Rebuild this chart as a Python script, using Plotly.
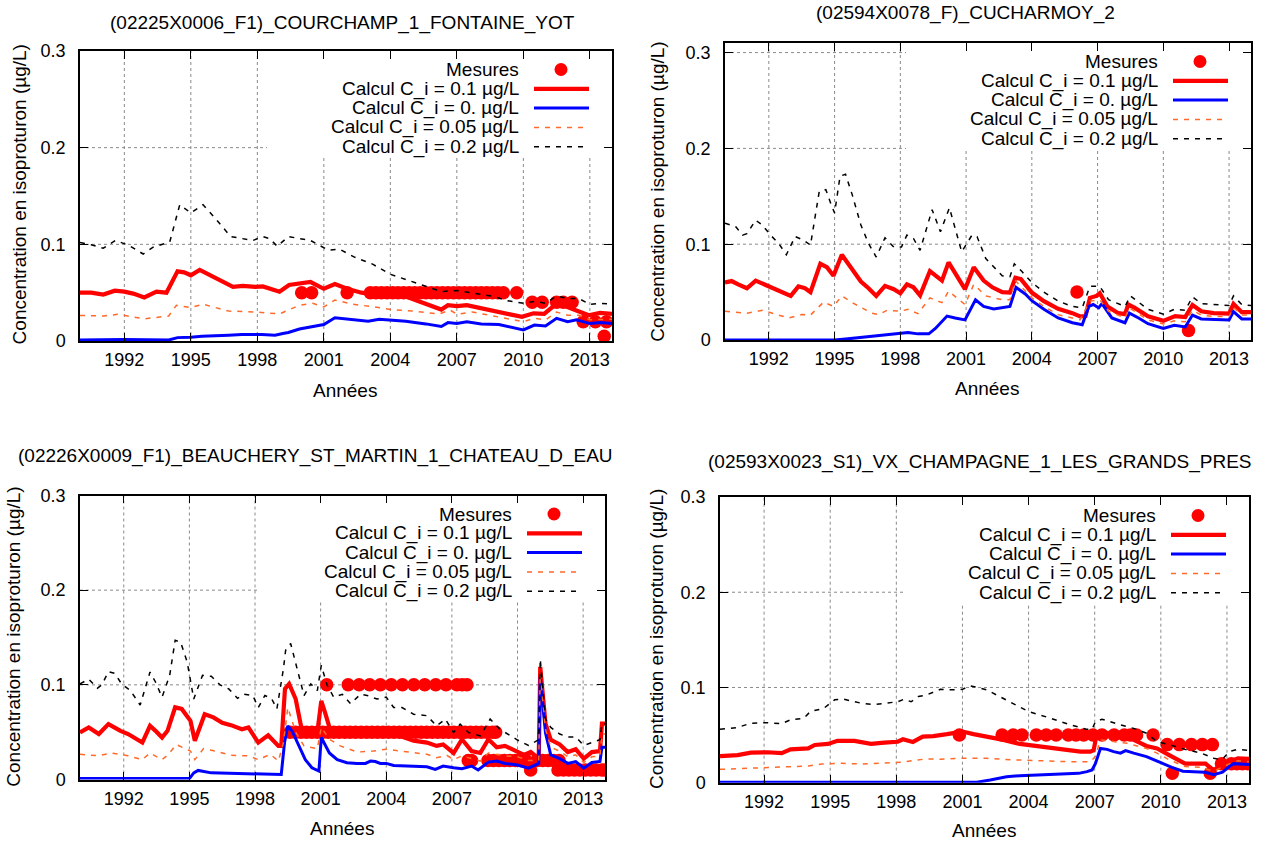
import plotly.graph_objects as go

W, H = 1264, 841

# ---------------- DATA ----------------
titles = [
    "(02225X0006_F1)_COURCHAMP_1_FONTAINE_YOT",
    "(02594X0078_F)_CUCHARMOY_2",
    "(02226X0009_F1)_BEAUCHERY_ST_MARTIN_1_CHATEAU_D_EAU",
    "(02593X0023_S1)_VX_CHAMPAGNE_1_LES_GRANDS_PRES",
]
legend_labels = ["Mesures", "Calcul C_i = 0.1 µg/L", "Calcul C_i = 0. µg/L",
                 "Calcul C_i = 0.05 µg/L", "Calcul C_i = 0.2 µg/L"]
x_tick_years = [1992, 1995, 1998, 2001, 2004, 2007, 2010, 2013]
y_tick_vals = [0, 0.1, 0.2, 0.3]
y_tick_text = ["0", "0.1", "0.2", "0.3"]
x_title = "Années"
y_title = "Concentration en isoproturon (µg/L)"

# Panel 1
p1_meas_x = [2000.0, 2000.45, 2002.05, 2003.1, 2003.35, 2003.6, 2003.85, 2004.1, 2004.35, 2004.6, 2004.85,
             2005.1, 2005.35, 2005.6, 2005.85, 2006.1, 2006.35, 2006.6, 2006.85, 2007.1, 2007.35, 2007.6,
             2007.85, 2008.1, 2008.35, 2008.6, 2008.85, 2009.1, 2009.7, 2010.4, 2010.85, 2011.5, 2011.8,
             2012.2, 2012.7, 2013.25, 2013.75, 2013.65]
p1_meas_y = [0.05, 0.05, 0.05, 0.05, 0.05, 0.05, 0.05, 0.05, 0.05, 0.05, 0.05,
             0.05, 0.05, 0.05, 0.05, 0.05, 0.05, 0.05, 0.05, 0.05, 0.05, 0.05,
             0.05, 0.05, 0.05, 0.05, 0.05, 0.05, 0.05, 0.04, 0.04, 0.04, 0.04,
             0.04, 0.02, 0.02, 0.02, 0.005]
p1_red_x = [1990.0, 1990.5, 1991.05, 1991.57, 1992.0, 1992.4, 1992.9, 1993.45, 1993.9, 1994.4, 1994.7, 1995.0,
            1995.4, 1995.9, 1996.4, 1996.9, 1997.35, 1997.9, 1998.25, 1998.55, 1999.0, 1999.43, 1999.9, 2000.4,
            2001.0, 2001.5, 2002.05, 2002.7, 2003.3, 2004.0, 2004.7, 2005.6, 2006.3, 2006.6, 2007.0, 2007.45,
            2008.1, 2008.9, 2009.4, 2009.94, 2010.46, 2010.94, 2011.46, 2011.9, 2012.4, 2012.95, 2013.46, 2014.0]
p1_red_y = [0.050, 0.050, 0.048, 0.052, 0.051, 0.049, 0.045, 0.051, 0.050, 0.072, 0.071, 0.068,
            0.0735, 0.068, 0.062, 0.056, 0.057, 0.056, 0.0565, 0.054, 0.051, 0.058, 0.059, 0.061,
            0.054, 0.059, 0.054, 0.050, 0.048, 0.049, 0.046, 0.039, 0.0325, 0.037, 0.036, 0.037,
            0.0335, 0.030, 0.0275, 0.025, 0.0286, 0.028, 0.038, 0.036, 0.032, 0.0266, 0.029, 0.028]
p1_blue_x = [1990.0, 1992.0, 1994.0, 1994.4, 1995.0, 1995.5, 1996.7, 1997.3, 1998.2, 1998.8, 1999.15, 1999.4,
             1999.9, 2000.4, 2001.0, 2001.5, 2002.3, 2003.0, 2003.5, 2004.0, 2004.7, 2005.6, 2006.3, 2006.6,
             2007.0, 2007.45, 2008.1, 2008.9, 2009.4, 2010.0, 2010.5, 2011.0, 2011.5, 2012.0, 2012.4, 2013.0,
             2013.5, 2014.0]
p1_blue_y = [0.001, 0.0015, 0.001, 0.0035, 0.004, 0.005, 0.006, 0.0067, 0.0067, 0.006, 0.0078, 0.0088,
             0.0124, 0.0148, 0.017, 0.024, 0.022, 0.0205, 0.0226, 0.022, 0.0205, 0.0177, 0.015, 0.019,
             0.018, 0.0198, 0.0177, 0.017, 0.0148, 0.0114, 0.0165, 0.0155, 0.0235, 0.020, 0.022, 0.018,
             0.019, 0.018]
p1_orange_x = [1990.0, 1991.05, 1991.7, 1992.9, 1994.0, 1994.35, 1995.0, 1995.55, 1996.7, 1997.9, 1999.0, 1999.4,
               1999.9, 2000.5, 2001.0, 2001.5, 2002.3, 2003.3, 2004.0, 2005.0, 2006.2, 2006.7, 2007.0, 2007.7,
               2008.9, 2009.4, 2010.0, 2010.5, 2011.0, 2011.5, 2012.0, 2012.5, 2013.0, 2014.0]
p1_orange_y = [0.0265, 0.0258, 0.0276, 0.023, 0.0258, 0.037, 0.0346, 0.038, 0.031, 0.030, 0.028, 0.032,
               0.037, 0.039, 0.0353, 0.0424, 0.038, 0.0353, 0.0325, 0.031, 0.028, 0.032, 0.0276, 0.030,
               0.025, 0.023, 0.020, 0.0235, 0.0218, 0.030, 0.0266, 0.0266, 0.022, 0.0225]
p1_black_x = [1990.0, 1990.5, 1991.05, 1991.6, 1992.2, 1992.85, 1993.3, 1993.8, 1994.05, 1994.5, 1995.0, 1995.55,
              1996.1, 1996.8, 1997.3, 1997.8, 1998.25, 1998.55, 1998.9, 1999.4, 1999.9, 2000.4, 2000.8, 2001.2,
              2001.7, 2002.4, 2003.2, 2004.0, 2004.7, 2005.6, 2006.3, 2007.0, 2007.8, 2008.7, 2009.2, 2010.0,
              2010.5, 2011.0, 2011.5, 2012.0, 2012.5, 2013.0, 2013.5, 2014.0]
p1_black_y = [0.1018, 0.0996, 0.096, 0.104, 0.099, 0.090, 0.097, 0.1007, 0.1025, 0.141, 0.1325, 0.141,
              0.127, 0.108, 0.106, 0.104, 0.108, 0.106, 0.098, 0.108, 0.106, 0.104, 0.099, 0.094,
              0.095, 0.0866, 0.0795, 0.069, 0.0636, 0.0565, 0.0512, 0.0523, 0.0495, 0.046, 0.042, 0.039,
              0.041, 0.039, 0.0466, 0.044, 0.044, 0.038, 0.039, 0.038]

# Panel 2
p2_meas_x = [2006.06, 2011.15]
p2_meas_y = [0.05, 0.01]
p2_red_x = [1990.0, 1990.3, 1990.6, 1991.0, 1991.4, 1991.8, 1992.15, 1992.5, 1993.0, 1993.35, 1993.65, 1993.9,
            1994.35, 1994.65, 1994.95, 1995.33, 1995.7, 1996.2, 1996.55, 1996.9, 1997.3, 1997.7, 1998.0, 1998.3,
            1998.6, 1998.9, 1999.35, 1999.9, 2000.2, 2000.95, 2001.35, 2001.8, 2002.2, 2002.65, 2003.0, 2003.25,
            2003.5, 2004.0, 2004.55, 2005.2, 2005.85, 2006.2, 2006.45, 2006.65, 2006.95, 2007.1, 2007.45, 2007.95,
            2008.25, 2008.4, 2008.7, 2009.3, 2010.0, 2010.54, 2011.0, 2011.33, 2011.73, 2012.29, 2013.0, 2013.2,
            2013.58, 2014.0]
p2_red_y = [0.060, 0.0615, 0.058, 0.054, 0.062, 0.058, 0.055, 0.052, 0.046, 0.056, 0.054, 0.050,
            0.0795, 0.076, 0.067, 0.089, 0.0777, 0.061, 0.054, 0.046, 0.0565, 0.053, 0.0488, 0.058,
            0.055, 0.0466, 0.072, 0.062, 0.081, 0.053, 0.076, 0.062, 0.055, 0.050, 0.0495, 0.065,
            0.0636, 0.0495, 0.0406, 0.0325, 0.028, 0.0247, 0.025, 0.044, 0.046, 0.0488, 0.035, 0.028,
            0.027, 0.037, 0.0335, 0.0247, 0.020, 0.025, 0.024, 0.0365, 0.030, 0.028, 0.0275, 0.0376,
            0.029, 0.029]
p2_blue_x = [1990.0, 1995.0, 1995.5, 1996.4, 1997.15, 1998.0, 1998.35, 1998.8, 1999.3, 1999.6, 2000.13, 2000.5,
             2000.95, 2001.43, 2001.8, 2002.26, 2002.65, 2003.0, 2003.28, 2003.7, 2004.0, 2004.55, 2005.2, 2005.85,
             2006.3, 2006.6, 2006.8, 2007.05, 2007.2, 2007.65, 2008.25, 2008.45, 2008.87, 2009.3, 2010.0, 2010.5,
             2011.0, 2011.33, 2011.73, 2012.3, 2013.0, 2013.2, 2013.58, 2014.0]
p2_blue_y = [0.0, 0.0, 0.001, 0.003, 0.005, 0.007, 0.0078, 0.0064, 0.0064, 0.012, 0.025, 0.023,
             0.021, 0.042, 0.035, 0.0325, 0.0336, 0.035, 0.055, 0.048, 0.041, 0.032, 0.023, 0.018,
             0.016, 0.035, 0.037, 0.0336, 0.038, 0.023, 0.018, 0.028, 0.023, 0.017, 0.012, 0.0153,
             0.0136, 0.026, 0.022, 0.0216, 0.021, 0.0296, 0.022, 0.022]
p2_orange_x = [1990.0, 1991.0, 1991.7, 1992.9, 1993.5, 1993.9, 1994.5, 1994.95, 1995.33, 1995.8, 1996.7, 1997.0,
               1997.4, 1998.0, 1998.35, 1998.8, 1999.35, 1999.9, 2000.2, 2000.95, 2001.35, 2001.9, 2002.65, 2003.0,
               2003.25, 2004.0, 2004.55, 2005.2, 2006.2, 2006.65, 2007.1, 2007.5, 2008.25, 2008.45, 2009.3, 2010.0,
               2010.5, 2011.0, 2011.33, 2011.73, 2012.3, 2013.0, 2013.2, 2013.58, 2014.0]
p2_orange_y = [0.030, 0.028, 0.031, 0.023, 0.0265, 0.026, 0.0396, 0.035, 0.046, 0.039, 0.028, 0.0265,
               0.031, 0.030, 0.032, 0.0275, 0.044, 0.039, 0.051, 0.037, 0.058, 0.046, 0.042, 0.042,
               0.062, 0.044, 0.035, 0.0265, 0.021, 0.0406, 0.042, 0.030, 0.023, 0.0336, 0.021, 0.0167,
               0.020, 0.019, 0.031, 0.026, 0.0245, 0.0245, 0.034, 0.026, 0.026]
p2_black_x = [1990.0, 1990.5, 1990.8, 1991.0, 1991.4, 1991.7, 1992.1, 1992.45, 1992.8, 1993.2, 1993.6, 1993.9,
              1994.3, 1994.6, 1994.85, 1995.0, 1995.25, 1995.5, 1995.8, 1996.2, 1996.55, 1996.9, 1997.3, 1997.7,
              1998.05, 1998.3, 1998.6, 1998.9, 1999.45, 1999.83, 2000.24, 2000.5, 2000.8, 2001.27, 2001.5, 2001.9,
              2002.65, 2003.0, 2003.2, 2003.55, 2004.0, 2004.55, 2005.2, 2005.85, 2006.3, 2006.65, 2007.1, 2007.5,
              2008.25, 2008.5, 2009.3, 2010.0, 2010.5, 2011.0, 2011.33, 2011.73, 2012.3, 2013.0, 2013.2, 2013.58,
              2014.0]
p2_black_y = [0.122, 0.118, 0.1095, 0.111, 0.125, 0.120, 0.109, 0.1007, 0.089, 0.108, 0.104, 0.099,
              0.155, 0.157, 0.141, 0.1325, 0.171, 0.173, 0.152, 0.120, 0.1007, 0.0866, 0.1067, 0.097,
              0.097, 0.1095, 0.106, 0.0936, 0.136, 0.113, 0.138, 0.1166, 0.092, 0.1095, 0.108, 0.085,
              0.067, 0.066, 0.0795, 0.0714, 0.060, 0.050, 0.0406, 0.035, 0.0336, 0.056, 0.056, 0.042,
              0.035, 0.046, 0.032, 0.027, 0.032, 0.031, 0.045, 0.038, 0.037, 0.036, 0.046, 0.037,
              0.036]

# Panel 3
p3_meas_x = [2001.28, 2002.26, 2002.76, 2003.24, 2003.73, 2004.23, 2004.74, 2005.26, 2005.76, 2006.26, 2006.73,
             2007.23, 2007.47, 2007.69,
             1999.6, 1999.85, 2000.1, 2000.35, 2000.6, 2000.85, 2001.1, 2001.35, 2001.6, 2001.85, 2002.1,
             2002.35, 2002.6, 2002.85, 2003.1, 2003.35, 2003.6, 2003.85, 2004.1, 2004.35, 2004.6, 2004.85,
             2005.1, 2005.35, 2005.6, 2005.85, 2006.1, 2006.35, 2006.6, 2006.85, 2007.1, 2007.35, 2007.6,
             2007.85, 2008.1, 2008.35, 2008.6, 2008.85, 2009.0,
             2007.75, 2007.9, 2008.65, 2008.9, 2009.15, 2009.4, 2009.65, 2009.9, 2010.15, 2010.4, 2010.9,
             2011.15, 2011.4, 2011.65, 2011.9,
             2010.6, 2011.85, 2012.1, 2012.35, 2012.6, 2012.85, 2013.1, 2013.35, 2013.6, 2013.85, 2014.0]
p3_meas_y = [0.1, 0.1, 0.1, 0.1, 0.1, 0.1, 0.1, 0.1, 0.1, 0.1, 0.1,
             0.1, 0.1, 0.1,
             0.05, 0.05, 0.05, 0.05, 0.05, 0.05, 0.05, 0.05, 0.05, 0.05, 0.05,
             0.05, 0.05, 0.05, 0.05, 0.05, 0.05, 0.05, 0.05, 0.05, 0.05, 0.05,
             0.05, 0.05, 0.05, 0.05, 0.05, 0.05, 0.05, 0.05, 0.05, 0.05, 0.05,
             0.05, 0.05, 0.05, 0.05, 0.05, 0.05,
             0.02, 0.02, 0.02, 0.02, 0.02, 0.02, 0.02, 0.02, 0.02, 0.02, 0.02,
             0.02, 0.02, 0.02, 0.02,
             0.01, 0.01, 0.01, 0.01, 0.01, 0.01, 0.01, 0.01, 0.01, 0.01, 0.01]
p3_red_x = [1990.0, 1990.4, 1990.86, 1991.3, 1991.85, 1992.2, 1992.85, 1993.2, 1993.45, 1993.75, 1994.0, 1994.35,
            1994.65, 1995.05, 1995.25, 1995.7, 1996.1, 1996.5, 1996.9, 1997.4, 1997.7, 1998.15, 1998.6, 1999.07,
            1999.2, 1999.37, 1999.56, 1999.86, 2000.1, 2000.24, 2000.85, 2001.03, 2001.2, 2001.45, 2002.5, 2003.5,
            2004.5, 2005.25, 2005.86, 2006.3, 2006.6, 2007.08, 2007.46, 2007.9, 2008.3, 2008.67, 2009.05, 2009.43,
            2009.9, 2010.3, 2010.6, 2010.97, 2011.04, 2011.28, 2011.52, 2011.93, 2012.3, 2012.66, 2013.03, 2013.4,
            2013.77, 2013.86, 2014.0]
p3_red_y = [0.0496, 0.055, 0.048, 0.0585, 0.0514, 0.048, 0.039, 0.0567, 0.0514, 0.0443, 0.0514, 0.0762,
            0.0745, 0.062, 0.041, 0.069, 0.0656, 0.060, 0.0574, 0.053, 0.055, 0.039, 0.0468, 0.0355,
            0.0355, 0.0957, 0.101, 0.085, 0.057, 0.050, 0.050, 0.083, 0.071, 0.0514, 0.050, 0.049,
            0.047, 0.041, 0.039, 0.0355, 0.037, 0.028, 0.0425, 0.030, 0.028, 0.0425, 0.034, 0.0355,
            0.031, 0.026, 0.029, 0.022, 0.119, 0.059, 0.042, 0.037, 0.029, 0.032, 0.022, 0.029,
            0.030, 0.059, 0.059]
p3_blue_x = [1990.0, 1995.0, 1995.2, 1995.4, 1996.0, 1997.1, 1998.0, 1998.9, 1999.2, 1999.35, 1999.5, 1999.7,
             2000.0, 2000.3, 2000.6, 2000.92, 2001.03, 2001.4, 2001.76, 2002.2, 2002.67, 2003.05, 2003.28, 2003.5,
             2003.73, 2004.0, 2004.34, 2005.25, 2005.86, 2006.24, 2006.6, 2007.08, 2007.46, 2007.9, 2008.2, 2008.67,
             2009.05, 2009.43, 2010.0, 2010.5, 2010.97, 2011.04, 2011.28, 2011.52, 2011.93, 2012.3, 2012.66, 2013.03,
             2013.4, 2013.77, 2013.86, 2014.0]
p3_blue_y = [0.001, 0.001, 0.007, 0.0096, 0.007, 0.0064, 0.006, 0.0053, 0.0053, 0.039, 0.0567, 0.051,
             0.0355, 0.021, 0.0124, 0.0089, 0.0443, 0.028, 0.021, 0.0177, 0.017, 0.017, 0.0195, 0.019,
             0.017, 0.017, 0.0149, 0.0142, 0.0135, 0.0106, 0.0142, 0.0124, 0.0113, 0.0142, 0.010, 0.0184,
             0.0195, 0.017, 0.0153, 0.012, 0.017, 0.1086, 0.049, 0.026, 0.022, 0.017, 0.019, 0.012,
             0.018, 0.019, 0.034, 0.034]
p3_orange_x = [1990.0, 1990.86, 1991.4, 1992.2, 1992.85, 1993.2, 1993.75, 1994.05, 1994.4, 1995.05, 1995.25, 1995.65,
               1996.2, 1996.9, 1997.7, 1998.15, 1998.7, 1999.07, 1999.3, 1999.5, 1999.86, 2000.24, 2000.85, 2001.03,
               2001.4, 2001.9, 2002.67, 2003.4, 2004.0, 2004.65, 2005.25, 2005.86, 2006.3, 2006.77, 2007.08, 2007.46,
               2008.3, 2008.67, 2009.43, 2010.0, 2010.5, 2010.97, 2011.04, 2011.28, 2011.52, 2011.93, 2012.3, 2012.66,
               2013.03, 2013.4, 2013.77, 2013.86, 2014.0]
p3_orange_y = [0.0266, 0.025, 0.028, 0.025, 0.021, 0.028, 0.021, 0.0266, 0.037, 0.030, 0.021, 0.0326,
               0.030, 0.0255, 0.025, 0.021, 0.0266, 0.0195, 0.039, 0.076, 0.050, 0.0355, 0.0326, 0.055,
               0.0425, 0.0355, 0.029, 0.030, 0.032, 0.030, 0.028, 0.0266, 0.023, 0.0255, 0.021, 0.025,
               0.0195, 0.028, 0.025, 0.024, 0.020, 0.020, 0.112, 0.053, 0.034, 0.030, 0.024, 0.026,
               0.018, 0.024, 0.025, 0.048, 0.048]
p3_black_x = [1990.0, 1990.4, 1990.8, 1991.0, 1991.3, 1991.6, 1991.9, 1992.3, 1992.75, 1993.2, 1993.45, 1993.75,
              1994.1, 1994.35, 1994.6, 1994.9, 1995.2, 1995.6, 1996.0, 1996.4, 1996.8, 1997.2, 1997.5, 1997.9,
              1998.15, 1998.45, 1998.75, 1999.0, 1999.3, 1999.4, 1999.63, 1999.94, 2000.24, 2000.55, 2000.85, 2001.03,
              2001.3, 2001.6, 2001.99, 2002.37, 2002.82, 2003.13, 2003.58, 2004.0, 2004.34, 2004.72, 2005.25, 2005.86,
              2006.3, 2006.7, 2007.08, 2007.38, 2007.76, 2008.3, 2008.75, 2009.2, 2010.0, 2010.5, 2010.97, 2011.04,
              2011.28, 2011.52, 2011.93, 2012.3, 2012.66, 2013.03, 2013.4, 2013.77, 2013.86, 2014.0]
p3_black_y = [0.101, 0.106, 0.0965, 0.100, 0.114, 0.112, 0.101, 0.094, 0.0787, 0.1135, 0.103, 0.087,
              0.110, 0.147, 0.145, 0.124, 0.085, 0.110, 0.109, 0.100, 0.0957, 0.0858, 0.090, 0.0887,
              0.076, 0.0887, 0.0858, 0.0745, 0.117, 0.1365, 0.1436, 0.117, 0.0887, 0.101, 0.094, 0.1206,
              0.0993, 0.087, 0.090, 0.080, 0.090, 0.0887, 0.085, 0.087, 0.076, 0.076, 0.069, 0.0674,
              0.0567, 0.0638, 0.0496, 0.0585, 0.0496, 0.046, 0.0638, 0.053, 0.0417, 0.036, 0.042, 0.127,
              0.064, 0.055, 0.048, 0.045, 0.045, 0.036, 0.039, 0.042, 0.059, 0.059]

# Panel 4
p4_meas_x = [2000.86, 2002.8, 2003.3, 2003.7, 2004.35, 2004.8, 2005.25, 2005.8, 2006.15, 2006.5, 2006.92,
             2007.33, 2007.88, 2008.34, 2008.62, 2008.9, 2009.65,
             2010.29, 2010.84, 2011.39, 2011.88, 2012.34,
             2010.52, 2012.24,
             2012.75, 2013.2, 2013.45, 2013.7, 2013.95]
p4_meas_y = [0.05, 0.05, 0.05, 0.05, 0.05, 0.05, 0.05, 0.05, 0.05, 0.05, 0.05,
             0.05, 0.05, 0.05, 0.05, 0.05, 0.05,
             0.04, 0.04, 0.04, 0.04, 0.04,
             0.01, 0.01,
             0.02, 0.02, 0.02, 0.02, 0.02]
p4_red_x = [1990.0, 1990.8, 1991.4, 1992.15, 1992.8, 1993.2, 1994.0, 1994.3, 1994.9, 1995.33, 1996.1, 1996.85,
            1997.45, 1998.06, 1998.3, 1998.75, 1999.2, 1999.68, 2000.3, 2001.0, 2001.5, 2002.1, 2002.86, 2003.6,
            2004.4, 2005.1, 2005.9, 2006.35, 2006.8, 2006.95, 2007.1, 2007.56, 2008.17, 2008.77, 2009.35, 2009.83,
            2010.38, 2011.1, 2011.84, 2012.03, 2012.4, 2012.76, 2013.13, 2013.49, 2014.0]
p4_red_y = [0.028, 0.029, 0.0316, 0.032, 0.031, 0.035, 0.036, 0.0396, 0.0407, 0.044, 0.0439, 0.0407,
            0.042, 0.043, 0.0456, 0.0428, 0.0484, 0.049, 0.051, 0.0537, 0.051, 0.0484, 0.045, 0.0407,
            0.0386, 0.036, 0.0344, 0.0326, 0.0326, 0.034, 0.052, 0.052, 0.050, 0.045, 0.0386, 0.036,
            0.029, 0.020, 0.020, 0.020, 0.013, 0.019, 0.020, 0.0256, 0.025]
p4_blue_x = [1990.0, 2001.65, 2002.26, 2003.0, 2003.6, 2004.4, 2005.1, 2005.9, 2006.27, 2006.65, 2006.88, 2007.03,
             2007.26, 2007.56, 2007.86, 2008.17, 2008.4, 2008.77, 2009.35, 2010.0, 2010.5, 2011.0, 2012.0, 2012.4,
             2012.8, 2013.1, 2013.3, 2014.0]
p4_blue_y = [0.0005, 0.0005, 0.0028, 0.0063, 0.0074, 0.008, 0.0088, 0.009, 0.0098, 0.0116, 0.0133, 0.020,
             0.036, 0.035, 0.0326, 0.031, 0.0337, 0.031, 0.0274, 0.021, 0.016, 0.012, 0.011, 0.0085,
             0.011, 0.017, 0.020, 0.019]
p4_orange_x = [1990.0, 1991.4, 1992.9, 1994.0, 1994.6, 1995.5, 1996.4, 1997.3, 1998.2, 1999.35, 2000.0, 2001.0,
               2002.1, 2003.3, 2004.4, 2005.9, 2006.8, 2007.03, 2007.26, 2007.86, 2008.47, 2009.35, 2009.83, 2010.38,
               2011.1, 2011.84, 2012.4, 2012.76, 2013.13, 2013.49, 2014.0]
p4_orange_y = [0.014, 0.015, 0.0168, 0.0175, 0.0196, 0.0204, 0.0196, 0.0204, 0.0214, 0.025, 0.0246, 0.0256,
               0.0256, 0.024, 0.023, 0.022, 0.022, 0.0274, 0.045, 0.043, 0.0414, 0.036, 0.031, 0.024,
               0.017, 0.016, 0.012, 0.016, 0.020, 0.023, 0.022]
p4_black_x = [1990.0, 1990.8, 1991.4, 1992.15, 1992.8, 1993.2, 1993.8, 1994.1, 1994.7, 1995.2, 1995.6, 1996.4,
              1997.0, 1997.6, 1998.06, 1998.36, 1998.67, 1999.0, 1999.35, 2000.0, 2000.6, 2001.0, 2001.35, 2002.1,
              2003.0, 2004.0, 2005.0, 2005.9, 2006.65, 2006.88, 2007.03, 2007.33, 2008.17, 2008.77, 2009.35, 2009.83,
              2010.38, 2011.1, 2011.84, 2012.4, 2012.76, 2013.13, 2013.49, 2014.0]
p4_black_y = [0.056, 0.058, 0.0625, 0.063, 0.062, 0.066, 0.0677, 0.0747, 0.078, 0.087, 0.0877, 0.0835,
              0.082, 0.0835, 0.085, 0.0877, 0.085, 0.0905, 0.092, 0.098, 0.0975, 0.098, 0.1018, 0.0975,
              0.087, 0.0747, 0.0677, 0.0607, 0.056, 0.056, 0.064, 0.0667, 0.0607, 0.057, 0.052, 0.043,
              0.040, 0.035, 0.031, 0.0257, 0.024, 0.033, 0.035, 0.034]

series = [
    (p1_meas_x, p1_meas_y, p1_red_x, p1_red_y, p1_blue_x, p1_blue_y, p1_orange_x, p1_orange_y, p1_black_x, p1_black_y),
    (p2_meas_x, p2_meas_y, p2_red_x, p2_red_y, p2_blue_x, p2_blue_y, p2_orange_x, p2_orange_y, p2_black_x, p2_black_y),
    (p3_meas_x, p3_meas_y, p3_red_x, p3_red_y, p3_blue_x, p3_blue_y, p3_orange_x, p3_orange_y, p3_black_x, p3_black_y),
    (p4_meas_x, p4_meas_y, p4_red_x, p4_red_y, p4_blue_x, p4_blue_y, p4_orange_x, p4_orange_y, p4_black_x, p4_black_y),
]

# ---------------- LAYOUT (pixel geometry) ----------------
X0, X1 = 1990, 2014
panels = [
    dict(l=80, r=612, t=51, b=341, ymax=0.3, tx=342.7, ty=22.7, ax=344.8, ay=390, yx=19.4, yy=194),
    dict(l=725, r=1251, t=43, b=340, ymax=0.31, tx=965, ty=12.7, ax=986.8, ay=388, yx=658, yy=191.7),
    dict(l=80, r=605, t=495.5, b=779.5, ymax=0.3, tx=315.6, ty=456, ax=342, ay=828, yx=14, yy=636.7),
    dict(l=720, r=1249, t=497, b=782.7, ymax=0.3, tx=979.6, ty=462.3, ax=984, ay=830, yx=656, yy=639),
]

FONT = "Liberation Sans, Arial, sans-serif"
RED = "#ff0000"
BLUE = "#0000ff"
ORANGE = "#ff6a2a"
BLACK = "#000000"
GRID = "#8a8a8a"
DASH = "5px,6px"


def pxx(x):
    return x / W


def pyy(y):
    return 1 - y / H


fig = go.Figure()
layout = dict(width=W, height=H, autosize=False,
              margin=dict(l=0, r=0, t=0, b=0, pad=0, autoexpand=False),
              paper_bgcolor="white", plot_bgcolor="white", showlegend=False,
              font=dict(family=FONT, size=19, color="black"))
annotations = []
shapes = []

for i, (p, s) in enumerate(zip(panels, series)):
    n = "" if i == 0 else str(i + 1)
    xa, ya = "x" + n, "y" + n
    mx, my, rx, ry, bx, by, ox, oy, kx, ky = s
    common = dict(xaxis=xa, yaxis=ya, showlegend=False, hoverinfo="skip")
    fig.add_trace(go.Scatter(x=mx, y=my, mode="markers",
                             marker=dict(color=RED, size=13.5, line=dict(width=0)), **common))
    fig.add_trace(go.Scatter(x=rx, y=ry, mode="lines", line=dict(color=RED, width=4.2), **common))
    fig.add_trace(go.Scatter(x=bx, y=by, mode="lines", line=dict(color=BLUE, width=3), **common))
    fig.add_trace(go.Scatter(x=ox, y=oy, mode="lines", line=dict(color=ORANGE, width=1.5, dash=DASH), **common))
    fig.add_trace(go.Scatter(x=kx, y=ky, mode="lines", line=dict(color=BLACK, width=1.5, dash=DASH), **common))

    axis_common = dict(ticks="inside", ticklen=8, tickwidth=1.2, tickcolor="black",
                       showline=True, linecolor="black", linewidth=1.5, mirror="ticks",
                       showgrid=False, zeroline=False, automargin=False,
                       tickfont=dict(family=FONT, size=18, color="black"), fixedrange=True)
    layout["xaxis" + n] = dict(domain=[pxx(p["l"]), pxx(p["r"])], anchor=ya, range=[X0, X1],
                               tickmode="array", tickvals=x_tick_years,
                               ticktext=[str(v) for v in x_tick_years], ticklabelstandoff=2, **axis_common)
    layout["yaxis" + n] = dict(domain=[pyy(p["b"]), pyy(p["t"])], anchor=xa, range=[0, p["ymax"]],
                               tickmode="array", tickvals=y_tick_vals, ticktext=y_tick_text,
                               ticklabelstandoff=9, **axis_common)

    # dotted grid, interrupted by the (opaque) key area as in the original
    w = p["r"] - p["l"]
    h = p["b"] - p["t"]
    key_left = X0 + (X1 - X0) * (w - 345) / w
    key_bottom = p["ymax"] * (h - 106) / h
    for xv in x_tick_years:
        ytop = key_bottom if xv > key_left else p["ymax"]
        shapes.append(dict(type="line", xref=xa, yref=ya, x0=xv, x1=xv, y0=0, y1=ytop,
                           line=dict(color=GRID, width=1, dash="dot"), layer="below"))
    for yv in y_tick_vals[1:]:
        if yv >= p["ymax"] - 1e-9:
            continue
        xright = key_left if yv > key_bottom else X1
        shapes.append(dict(type="line", xref=xa, yref=ya, x0=X0, x1=xright, y0=yv, y1=yv,
                           line=dict(color=GRID, width=1, dash="dot"), layer="below"))

    # titles
    annotations.append(dict(text=titles[i], x=pxx(p["tx"]), y=pyy(p["ty"]), xref="paper", yref="paper",
                            xanchor="center", yanchor="middle", showarrow=False,
                            font=dict(family=FONT, size=19, color="black")))
    annotations.append(dict(text=x_title, x=pxx(p["ax"]), y=pyy(p["ay"]), xref="paper", yref="paper",
                            xanchor="center", yanchor="middle", showarrow=False,
                            font=dict(family=FONT, size=19, color="black")))
    annotations.append(dict(text=y_title, x=pxx(p["yx"]), y=pyy(p["yy"]), xref="paper", yref="paper",
                            xanchor="center", yanchor="middle", showarrow=False, textangle=-90,
                            font=dict(family=FONT, size=19, color="black")))

    # key
    for k, lab in enumerate(legend_labels):
        ry_px = p["t"] + 18.5 + 19.3 * k
        annotations.append(dict(text=lab, x=pxx(p["r"] - 91), y=pyy(ry_px), xref="paper", yref="paper",
                                xanchor="right", yanchor="middle", showarrow=False,
                                font=dict(family=FONT, size=19, color="black")))
        if k == 0:
            cx = p["r"] - 51
            shapes.append(dict(type="circle", xref="paper", yref="paper",
                               x0=pxx(cx - 6.5), x1=pxx(cx + 6.5), y0=pyy(ry_px + 6.5), y1=pyy(ry_px - 6.5),
                               fillcolor=RED, line=dict(width=0)))
        else:
            col, wid, dash = [(RED, 4.2, "solid"), (BLUE, 3, "solid"),
                              (ORANGE, 1.5, DASH), (BLACK, 1.5, DASH)][k - 1]
            shapes.append(dict(type="line", xref="paper", yref="paper",
                               x0=pxx(p["r"] - 78), x1=pxx(p["r"] - 23), y0=pyy(ry_px), y1=pyy(ry_px),
                               line=dict(color=col, width=wid, dash=dash)))

layout["annotations"] = annotations
layout["shapes"] = shapes
fig.update_layout(**layout)
fig.write_html("out.html")
